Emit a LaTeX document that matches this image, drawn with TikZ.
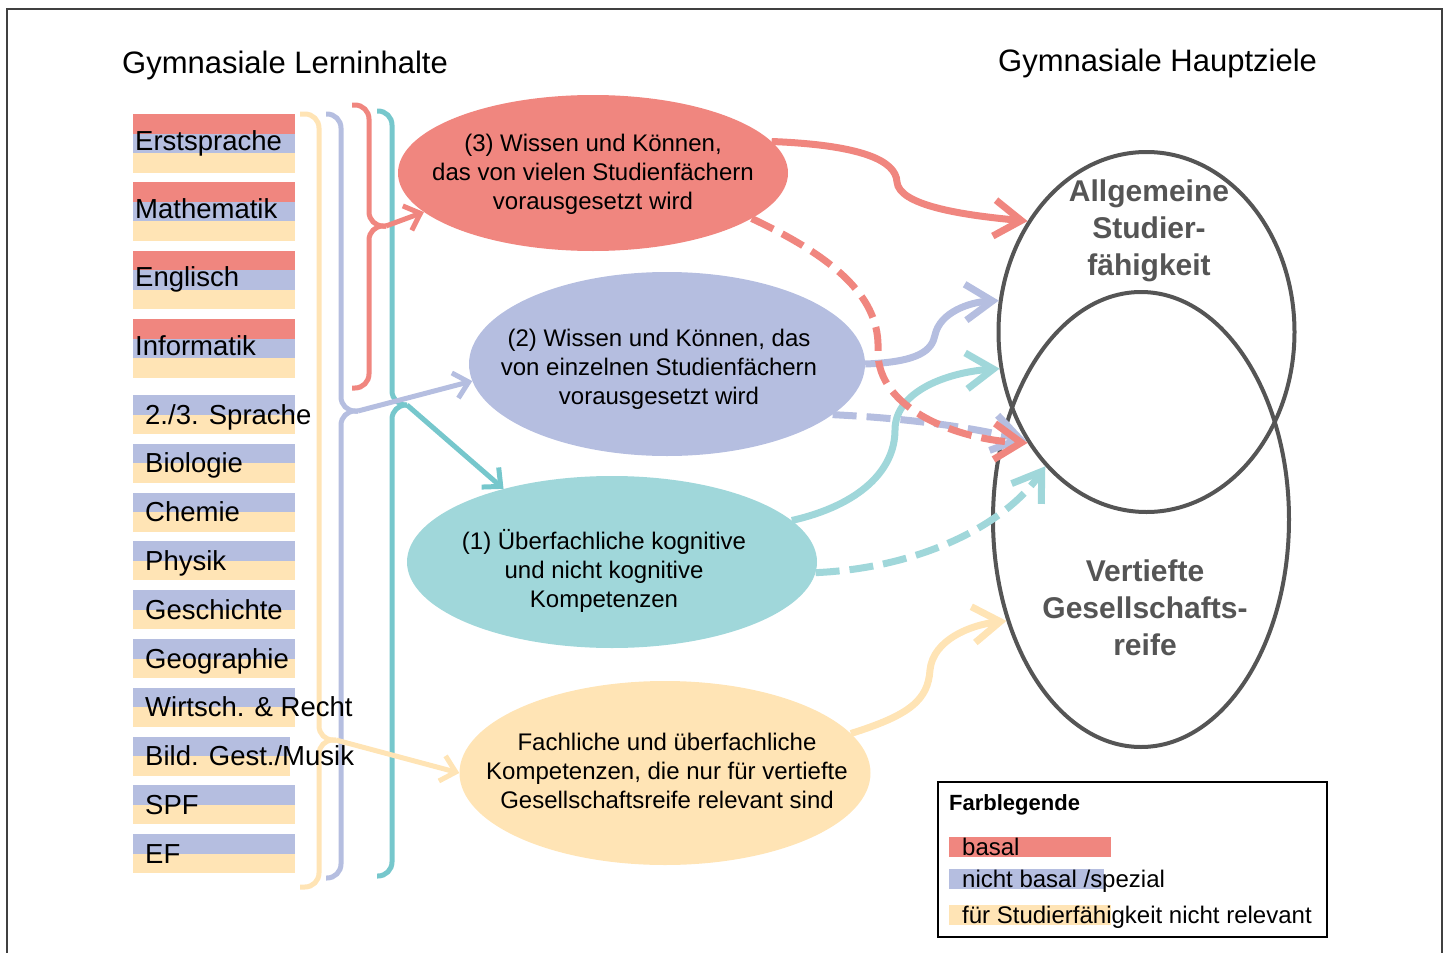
\documentclass[tikz,border=0pt]{standalone}
\usepackage{fontspec}
\setmainfont{Liberation Sans}
\definecolor{rot1}{RGB}{240,134,127}
\definecolor{blau1}{RGB}{181,190,224}
\definecolor{tuerkis1}{RGB}{160,215,218}
\definecolor{tuerkis2}{RGB}{118,199,204}
\definecolor{gelb1}{RGB}{255,228,181}
\definecolor{grau1}{RGB}{85,85,85}
\usepackage{tikz}
\usetikzlibrary{shapes.geometric, arrows.meta, positioning, calc}
\tikzset{
  titel/.style={inner sep=0pt, anchor=base west, font=\fontsize{31}{37}\selectfont},
  fach/.style={inner sep=0pt, anchor=base west, font=\fontsize{27.5}{32}\selectfont},
  blase/.style={ellipse, inner sep=0pt},
  blasentext/.style={align=center, inner sep=0pt, font=\fontsize{24}{29}\selectfont},
  ziel/.style={ellipse, draw=grau1, line width=4pt, inner sep=0pt},
  zieltext/.style={align=center, inner sep=0pt, text=grau1, font=\bfseries\fontsize{30}{37}\selectfont},
  legtext/.style={inner sep=0pt, anchor=base west, font=\fontsize{24}{29}\selectfont},
  klammer/.style={line width=5pt, rounded corners=14pt},
  klammerpfeil/.style={line width=5pt, -{Straight Barb[length=14pt, width=26pt]}},
  pfeil/.style={line width=7pt, -{Straight Barb[length=27pt, width=36pt]}},
  strich/.style={dash pattern=on 24pt off 10pt},
}
\begin{document}
\begin{tikzpicture}[x=1pt, y=-1pt]
  \useasboundingbox (0,0) rectangle (1449,953);
  \draw[line width=2pt, black!75] (7,953) -- (7,9) -- (1442,9) -- (1442,953);

  \node[titel] (links) at (122,73) {Gymnasiale Lerninhalte};
  \node[titel] (rechts) at (998,71) {Gymnasiale Hauptziele};

  \coordinate (gspitze) at (336,740);
  \coordinate (bspitze) at (358,411);
  \coordinate (rspitze) at (386,226);
  \coordinate (tspitze) at (407,405);
  \draw[klammer, gelb1] (300,114) -- (319,114) -- (319,740) -- (gspitze);
  \draw[klammer, gelb1] (gspitze) -- (319,740) -- (319,887) -- (300,887);
  \draw[klammer, blau1] (326,114) -- (341,114) -- (341,411) -- (bspitze);
  \draw[klammer, blau1] (bspitze) -- (341,411) -- (341,878) -- (326,878);
  \draw[klammer, rot1] (352,105) -- (369,105) -- (369,226) -- (rspitze);
  \draw[klammer, rot1] (rspitze) -- (369,226) -- (369,388) -- (352,388);
  \draw[klammer, tuerkis2] (377,111) -- (392,111) -- (392,405) -- (tspitze);
  \draw[klammer, tuerkis2] (tspitze) -- (392,405) -- (392,876) -- (377,876);

  \foreach \n/\fachname [count=\i from 0] in {erst/Erstsprache, mathe/Mathematik, engl/Englisch, info/Informatik} {
    \pgfmathsetmacro{\yo}{114+68.4*\i}
    \fill[rot1] (133,\yo) rectangle (295,\yo+19.5);
    \fill[blau1] (133,\yo+19.5) rectangle (295,\yo+39);
    \fill[gelb1] (133,\yo+39) rectangle (295,\yo+58.5);
    \node[fach] (\n) at (135,\yo+36) {\fachname};
  }
  \foreach \n/\fachname/\xr [count=\i from 0] in {sprache/{2./3. Sprache}/295, bio/Biologie/295, chemie/Chemie/295, physik/Physik/295, gesch/Geschichte/295, geo/Geographie/295, wr/{Wirtsch. \& Recht}/295, bg/{Bild. Gest./Musik}/290, spf/SPF/295, ef/EF/295} {
    \pgfmathsetmacro{\yo}{395+48.8*\i}
    \fill[blau1] (133,\yo) rectangle (\xr,\yo+19.5);
    \fill[gelb1] (133,\yo+19.5) rectangle (\xr,\yo+39);
    \node[fach] (\n) at (145,\yo+29) {\fachname};
  }

  \node[blase, fill=rot1, minimum width=390pt, minimum height=156pt] (rot3) at (593,173) {};
  \node[blase, fill=blau1, minimum width=396pt, minimum height=184pt] (blau2) at (667,364) {};
  \node[blase, fill=tuerkis1, minimum width=410pt, minimum height=172pt] (tuerkis1) at (612,562) {};
  \node[blase, fill=gelb1, minimum width=411pt, minimum height=184pt] (gelb) at (665,773) {};
  \node[blasentext] (rot3text) at (593,174) {(3) Wissen und Können,\\das von vielen Studienfächern\\vorausgesetzt wird};
  \node[blasentext] (blau2text) at (659,369) {(2) Wissen und Können, das\\von einzelnen Studienfächern\\vorausgesetzt wird};
  \node[blasentext] (tuerkis1text) at (604,571) {(1) Überfachliche kognitive\\und nicht kognitive\\Kompetenzen};
  \node[blasentext] (gelbtext) at (667,771) {Fachliche und überfachliche\\Kompetenzen, die nur für vertiefte\\Gesellschaftsreife relevant sind};

  \draw[klammerpfeil, tuerkis2] (tspitze) -- (tuerkis1.146);
  \draw[klammerpfeil, rot1] (rspitze) -- (rot3.193);
  \draw[klammerpfeil, blau1] (bspitze) -- (blau2.185);
  \draw[klammerpfeil, gelb1] (gspitze) -- (gelb.west);

  \node[ziel, minimum width=296pt, minimum height=360pt] (allg) at (1146.5,332) {};
  \node[ziel, minimum width=296pt, minimum height=455pt] (vert) at (1141,519.5) {};
  \node[zieltext] (allgtext) at (1149,231) {Allgemeine\\Studier-\\fähigkeit};
  \node[zieltext] (verttext) at (1145,608) {Vertiefte\\Gesellschafts-\\reife};

  \draw[pfeil, gelb1] (gelb.12) .. controls (910,715) and (928,700) .. (930,670) .. controls (933,640) and (970,625) .. (vert.217);
  \draw[pfeil, strich, tuerkis1] (tuerkis1.-3) .. controls (920,568) and (1005,525) .. (allg.233);
  \draw[pfeil, tuerkis1] (tuerkis1.13) .. controls (860,505) and (895,470) .. (895,430) .. controls (895,390) and (950,372) .. (allg.194);
  \draw[pfeil, strich, blau1] (blau2.-17) .. controls (900,418) and (960,425) .. (allg.222);
  \draw[pfeil, blau1] (blau2.east) .. controls (920,362) and (932,350) .. (935,335) .. controls (940,312) and (970,302) .. (allg.168);
  \draw[pfeil, strich, rot1] (rot3.-16) .. controls (840,260) and (880,300) .. (878,350) .. controls (876,410) and (960,440) .. (allg.223);
  \draw[pfeil, rot1] (rot3.10) .. controls (860,145) and (896,160) .. (897,182) .. controls (899,205) and (960,215) .. (allg.137);

  \node[draw, line width=1.5pt, inner sep=0pt, minimum width=389pt, minimum height=155pt, anchor=north west] (legende) at (937,781) {};
  \node[inner sep=0pt, anchor=base west, font=\bfseries\fontsize{22}{26}\selectfont] (legtitel) at (949,810) {Farblegende};
  \fill[rot1] (949,837) rectangle (1111,857);
  \fill[blau1] (949,869) rectangle (1104,889);
  \fill[gelb1] (949,905) rectangle (1111,925);
  \node[legtext] (basal) at (962,855) {basal};
  \node[legtext] (spezial) at (962,887) {nicht basal /spezial};
  \node[legtext] (irrelevant) at (962,923) {für Studierfähigkeit nicht relevant};
\end{tikzpicture}
\end{document}
